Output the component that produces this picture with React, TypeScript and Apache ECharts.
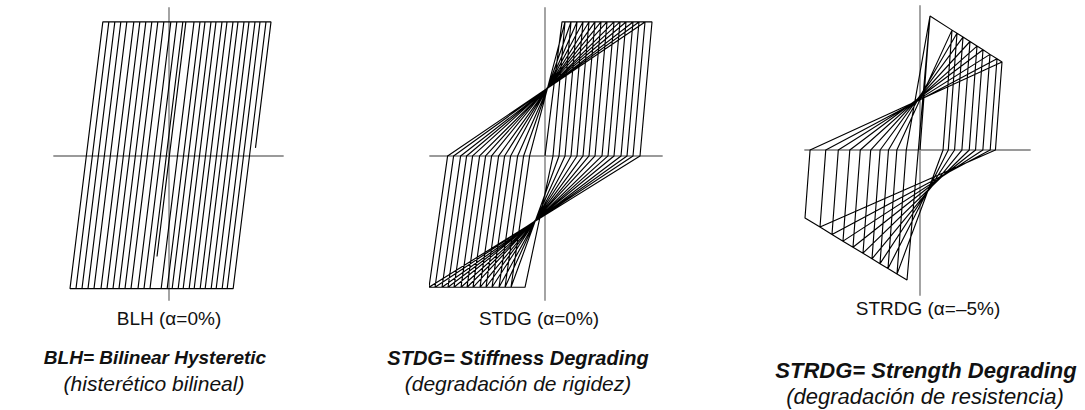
import React, { useEffect, useRef } from "react";
import * as echarts from "echarts";

type P = [number, number];

// ---------- BLH (bilinear hysteretic, alpha = 0%) ----------
// displacement units ~ scaled; force in % of yield force
const blhStart: P = [-12, -75];
const blhMax = [25, 31, 36, 42, 47, 53, 58, 64, 69, 75, 80, 86, 91, 97, 102];
const blhMin = [-19, -25, -31, -38, -44, -50, -56, -62, -68, -75, -81, -87, -93, -99];
const blhForce = [100, -99]; // yield plateau levels (top, bottom)
const blhEndForce = 6;
const blhElastic = 0.165; // displacement per unit force

// ---------- STDG (stiffness degrading, alpha = 0%) ----------
const stdgStart: P[] = [[0, 0], [17, 100]];
const stdgYieldNeg: P = [-20, -98];
const stdgMax = [20, 26, 32, 38, 44, 50, 56, 62, 69, 75, 81, 88, 94, 100, 107];
const stdgMin = [-34, -40, -46, -53, -59, -65, -72, -78, -84, -91, -97, -103, -110, -116];
const stdgForce = [100, -98];
const stdgUnload = [0.12, 0.19]; // from top, from bottom

// ---------- STRDG (strength degrading, alpha = -5%) ----------
const strdgStart: P[] = [[0, 0], [10, 100], [-13, -97]];
const strdgMaxX = [32, 37, 43, 50, 57, 63, 70, 77, 82];
const strdgMaxF = [89.5, 87.1, 84.3, 81.0, 77.6, 74.8, 71.4, 68.1, 65.7];
const strdgMinX = [-23, -32, -40, -48, -57, -67, -77, -88, -100, -115];
const strdgMinF = [-92.6, -88.5, -84.8, -81.2, -77.0, -72.6, -68.0, -63.0, -57.5, -50.7];
const strdgUnload = [0.1, 0.1];

// ---------- texts ----------
const modelLabels = ["BLH (α=0%)", "STDG (α=0%)", "STRDG (α=–5%)"];
const modelTitles = ["BLH= Bilinear Hysteretic", "STDG= Stiffness Degrading", "STRDG= Strength Degrading"];
const modelSubtitles = ["(histerético bilineal)", "(degradación de rigidez)", "(degradación de resistencia)"];

function blhPath(): P[] {
  const [ft, fb] = blhForce;
  const k = blhElastic;
  const pts: P[] = [[blhStart[0], blhStart[1]]];
  pts.push([blhStart[0] + k * (ft - blhStart[1]), ft]);
  for (let i = 0; i < blhMax.length; i++) {
    pts.push([blhMax[i], ft]);
    if (i < blhMin.length) {
      pts.push([blhMax[i] - k * (ft - fb), fb]);
      pts.push([blhMin[i], fb]);
      pts.push([blhMin[i] + k * (ft - fb), ft]);
    } else {
      pts.push([blhMax[i] - k * (ft - blhEndForce), blhEndForce]);
    }
  }
  return pts;
}

function interleave(maxs: P[], mins: P[], startWithMax: boolean): P[] {
  const out: P[] = [];
  const n = Math.max(maxs.length, mins.length);
  for (let i = 0; i < n; i++) {
    const a = startWithMax ? maxs[i] : mins[i];
    const b = startWithMax ? mins[i] : maxs[i];
    if (a) out.push(a);
    if (b) out.push(b);
  }
  return out;
}

function cloughPath(start: P[], lastMax0: P, lastMin0: P, turns: P[], kPos: number, kNeg: number): P[] {
  const pts: P[] = start.map((p) => [p[0], p[1]] as P);
  let lastMax = lastMax0;
  let lastMin = lastMin0;
  for (let i = 0; i < turns.length; i++) {
    const t = turns[i];
    const pos = t[1] > 0;
    if (i > 0) pts.push(pos ? lastMax : lastMin);
    pts.push(t);
    if (pos) lastMax = t;
    else lastMin = t;
    const k = pos ? kPos : kNeg;
    pts.push([t[0] - k * t[1], 0]);
  }
  const lastT = turns[turns.length - 1];
  pts.push(lastT[1] > 0 ? lastMin : lastMax);
  return pts;
}

function stdgPath(): P[] {
  const maxs: P[] = stdgMax.map((x) => [x, stdgForce[0]] as P);
  const mins: P[] = stdgMin.map((x) => [x, stdgForce[1]] as P);
  const turns = interleave(maxs, mins, true);
  return cloughPath(stdgStart, stdgStart[stdgStart.length - 1], stdgYieldNeg, turns, stdgUnload[0], stdgUnload[1]);
}

function strdgPath(): P[] {
  const maxs: P[] = strdgMaxX.map((x, i) => [x, strdgMaxF[i]] as P);
  const mins: P[] = strdgMinX.map((x, i) => [x, strdgMinF[i]] as P);
  const turns = interleave(maxs, mins, false);
  return cloughPath(strdgStart, strdgStart[1], strdgStart[2], turns, strdgUnload[0], strdgUnload[1]);
}

const axisLineStyle = { color: "#9a9a9a", width: 1.8 };

function mkAxis(gi: number, min: number, max: number) {
  return {
    type: "value",
    gridIndex: gi,
    min,
    max,
    axisLine: { show: true, onZero: true, lineStyle: axisLineStyle },
    axisTick: { show: false },
    axisLabel: { show: false },
    splitLine: { show: false },
  };
}

function lineSeries(gi: number, data: P[]) {
  return {
    type: "line",
    xAxisIndex: gi,
    yAxisIndex: gi,
    data,
    symbol: "none",
    showSymbol: false,
    silent: true,
    lineStyle: { color: "#000", width: 1.15 },
    clip: false,
  };
}

function txt(text: string, x: number, y: number, font: string) {
  return {
    type: "text",
    x,
    y,
    silent: true,
    style: { text, fill: "#111111", font, textAlign: "center", verticalAlign: "middle" },
  };
}

export default function App() {
  const ref = useRef<HTMLDivElement>(null);
  useEffect(() => {
    document.body.style.margin = "0";
    if (!ref.current) return;
    const chart = echarts.init(ref.current, undefined, { renderer: "svg" });
    const ff = "'Liberation Sans', Arial, sans-serif";
    chart.setOption({
      animation: false,
      backgroundColor: "#ffffff",
      grid: [
        { left: 54, top: 8, width: 229, height: 292 },
        { left: 430, top: 8, width: 232, height: 292 },
        { left: 805, top: 6, width: 225, height: 289 },
      ],
      xAxis: [mkAxis(0, -115, 114), mkAxis(1, -115, 117), mkAxis(2, -115, 110)],
      yAxis: [mkAxis(0, -107.5, 110.4), mkAxis(1, -107.5, 110.4), mkAxis(2, -108.2, 107.5)],
      series: [lineSeries(0, blhPath()), lineSeries(1, stdgPath()), lineSeries(2, strdgPath())],
      graphic: [
        txt(modelLabels[0], 169, 318, `19px ${ff}`),
        txt(modelLabels[1], 539, 318, `19px ${ff}`),
        txt(modelLabels[2], 928, 308, `19px ${ff}`),
        txt(modelTitles[0], 155, 357, `italic bold 19px ${ff}`),
        txt(modelTitles[1], 518, 358, `italic bold 20px ${ff}`),
        txt(modelTitles[2], 926, 370, `italic bold 22px ${ff}`),
        txt(modelSubtitles[0], 154, 383, `italic 21px ${ff}`),
        txt(modelSubtitles[1], 518, 383, `italic 21px ${ff}`),
        txt(modelSubtitles[2], 925, 396, `italic 22px ${ff}`),
      ],
    });
    return () => chart.dispose();
  }, []);
  return <div ref={ref} style={{ width: 1085, height: 410 }} />;
}
